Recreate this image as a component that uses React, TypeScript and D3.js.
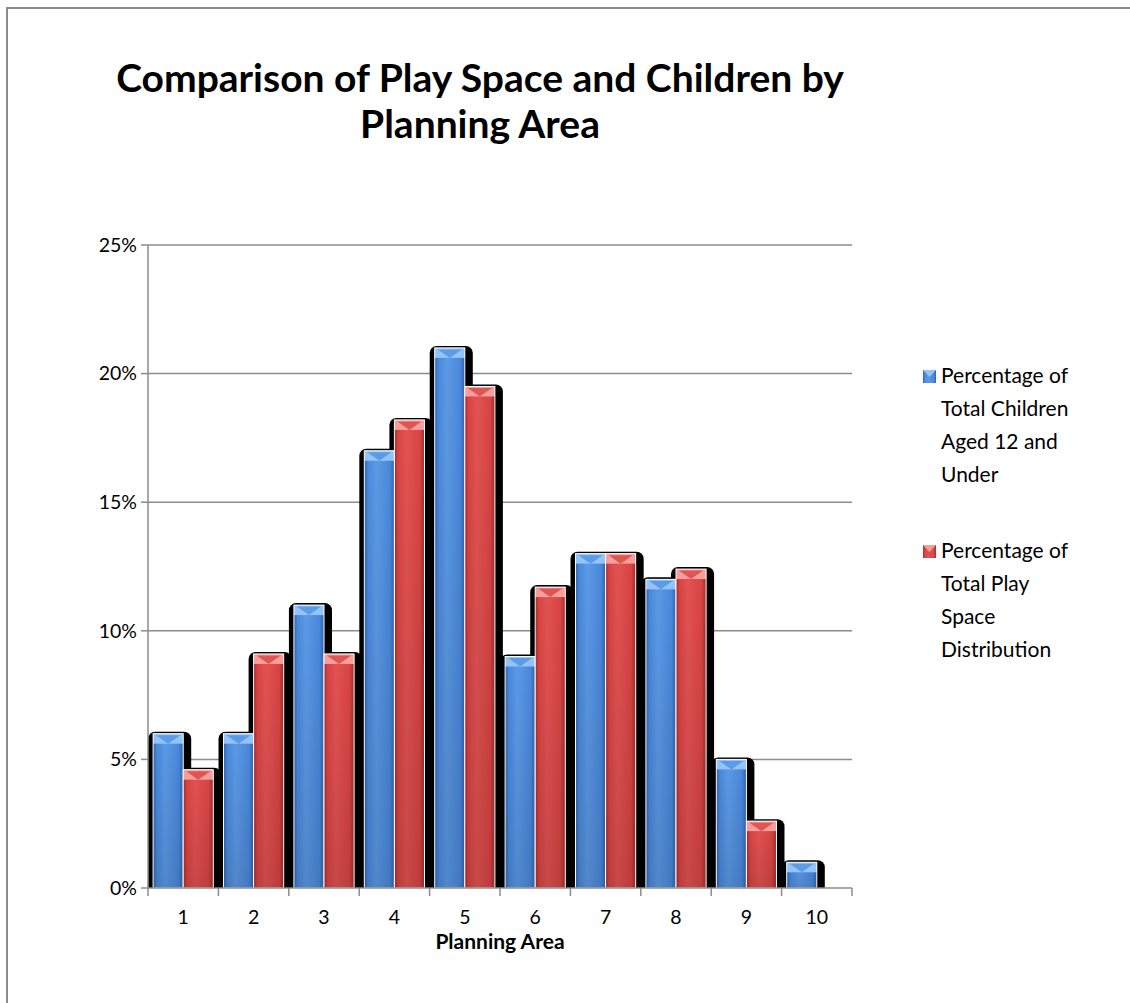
import React from "react";
import * as d3 from "d3";

const categories = ["1", "2", "3", "4", "5", "6", "7", "8", "9", "10"];
const childrenPct = [6, 6, 11, 17, 21, 9, 13, 12, 5, 1];
const playSpacePct = [4.6, 9.1, 9.1, 18.2, 19.5, 11.7, 13.0, 12.4, 2.6, 0];
const yTicks = [0, 5, 10, 15, 20, 25];
const seriesNames = [
  ["Percentage of", "Total Children", "Aged 12 and", "Under"],
  ["Percentage of", "Total Play", "Space", "Distribution"],
];

const W = 1130;
const H = 1003;
const plot = { left: 148, right: 852, top: 245, bottom: 888 };
const FONT = "Lato, 'Open Sans', sans-serif";

const palettes = [
  { id: "blue", edge: "#2d62b0", mid: "#4a88db", light: "#5c9ae6", capLight: "#93c4f7", capMid: "#5c9be6" },
  { id: "red", edge: "#a62a29", mid: "#d84443", light: "#e25352", capLight: "#f79d9b", capMid: "#df5553" },
];

export default function App() {
  const x0 = d3.scaleBand<string>().domain(categories).range([plot.left, plot.right]).paddingInner(0).paddingOuter(0);
  const x1 = d3.scaleBand<number>().domain([0, 1]).range([0, x0.bandwidth()]).paddingOuter(0.17).paddingInner(0);
  const y = d3.scaleLinear().domain([0, 25]).range([plot.bottom, plot.top]);
  const series = [childrenPct, playSpacePct];

  const bars = categories.flatMap((c, i) =>
    series.map((vals, s) => {
      const bx = (x0(c) as number) + (x1(s) as number);
      const by = y(vals[i]);
      return { key: `${c}-${s}`, s, x: bx, y: by, w: x1.bandwidth(), h: plot.bottom - by, v: vals[i] };
    })
  ).filter((b) => b.v > 0);

  return (
    <svg width={W} height={H} style={{ display: "block", position: "absolute", left: 0, top: 0 }}>
      <defs>
        {palettes.map((p) => (
          <linearGradient key={p.id} id={`body-${p.id}`} x1="0" x2="1" y1="0" y2="0">
            <stop offset="0" stopColor={p.edge} />
            <stop offset="0.12" stopColor={p.mid} />
            <stop offset="0.4" stopColor={p.light} />
            <stop offset="0.85" stopColor={p.mid} />
            <stop offset="1" stopColor={p.edge} />
          </linearGradient>
        ))}
        <linearGradient id="shade" x1="0" x2="0" y1="0" y2="1">
          <stop offset="0" stopColor="#000" stopOpacity="0" />
          <stop offset="1" stopColor="#000" stopOpacity="0.12" />
        </linearGradient>
        <clipPath id="plotClip">
          <rect x={0} y={0} width={W} height={plot.bottom} />
        </clipPath>
      </defs>

      <rect x={0} y={0} width={W} height={H} fill="#fff" />
      {/* chart frame */}
      <rect x={7} y={8} width={W + 20} height={H + 20} fill="none" stroke="#8c8c8c" strokeWidth={2} />

      {/* title */}
      <text x={480} y={92} textAnchor="middle" fontFamily={FONT} fontWeight={700} fontSize={39} fill="#000">
        Comparison of Play Space and Children by
      </text>
      <text x={480} y={138} textAnchor="middle" fontFamily={FONT} fontWeight={700} fontSize={39} fill="#000">
        Planning Area
      </text>

      {/* gridlines */}
      {yTicks.filter((t) => t > 0).map((t) => (
        <line key={t} x1={plot.left} x2={plot.right} y1={y(t)} y2={y(t)} stroke="#8c8c8c" strokeWidth={1.5} />
      ))}

      {/* bar shadows */}
      <g clipPath="url(#plotClip)">
        {bars.map((b) => (
          <rect key={`sh-${b.key}`} x={b.x - 5} y={b.y - 2} width={b.w + 13} height={b.h + 10} rx={7} fill="#000" />
        ))}
      </g>

      {/* bars */}
      {bars.map((b) => {
        const p = palettes[b.s];
        const cap = Math.min(10, b.h);
        return (
          <g key={b.key}>
            <rect x={b.x} y={b.y} width={b.w} height={b.h} fill={`url(#body-${p.id})`} />
            <rect x={b.x} y={b.y} width={b.w} height={b.h} fill="url(#shade)" />
            <rect x={b.x} y={b.y} width={b.w} height={cap} fill={p.capLight} />
            <polygon
              points={`${b.x + 3},${b.y + 1.5} ${b.x + b.w - 3},${b.y + 1.5} ${b.x + b.w / 2},${b.y + cap}`}
              fill={p.capMid}
            />
            <rect x={b.x} y={b.y} width={b.w} height={b.h} fill="none" stroke="#fff" strokeWidth={1} />
          </g>
        );
      })}

      {/* y axis */}
      <line x1={plot.left} x2={plot.left} y1={plot.top} y2={plot.bottom} stroke="#8c8c8c" strokeWidth={1.5} />
      {yTicks.map((t) => (
        <g key={t}>
          <line x1={plot.left - 7} x2={plot.left} y1={y(t)} y2={y(t)} stroke="#8c8c8c" strokeWidth={1.5} />
          <text x={plot.left - 11} y={y(t)} dy="0.35em" textAnchor="end" fontFamily={FONT} fontSize={19.5} fill="#000">
            {`${t}%`}
          </text>
        </g>
      ))}

      {/* x axis */}
      <line x1={plot.left} x2={plot.right} y1={plot.bottom} y2={plot.bottom} stroke="#8c8c8c" strokeWidth={1.5} />
      {[...categories.map((c) => x0(c) as number), plot.right].map((tx, i) => (
        <line key={i} x1={tx} x2={tx} y1={plot.bottom} y2={plot.bottom + 8} stroke="#8c8c8c" strokeWidth={1.5} />
      ))}
      {categories.map((c) => (
        <text key={c} x={(x0(c) as number) + x0.bandwidth() / 2} y={917} dy="0.35em" textAnchor="middle" fontFamily={FONT} fontSize={19.5} fill="#000">
          {c}
        </text>
      ))}
      <text x={500} y={942} dy="0.35em" textAnchor="middle" fontFamily={FONT} fontWeight={700} fontSize={21} fill="#000">
        Planning Area
      </text>

      {/* legend */}
      {seriesNames.map((lines, s) => {
        const p = palettes[s];
        const top = s === 0 ? 376 : 551;
        return (
          <g key={s}>
            <rect x={923} y={top - 6} width={13} height={13} fill={`url(#body-${p.id})`} />
            <polygon points={`${923},${top - 6} ${936},${top - 6} ${929.5},${top + 1}`} fill={p.capLight} />
            {lines.map((ln, j) => (
              <text key={j} x={941} y={top + j * 33} dy="0.35em" fontFamily={FONT} fontSize={21} fill="#000">
                {ln}
              </text>
            ))}
          </g>
        );
      })}
    </svg>
  );
}
